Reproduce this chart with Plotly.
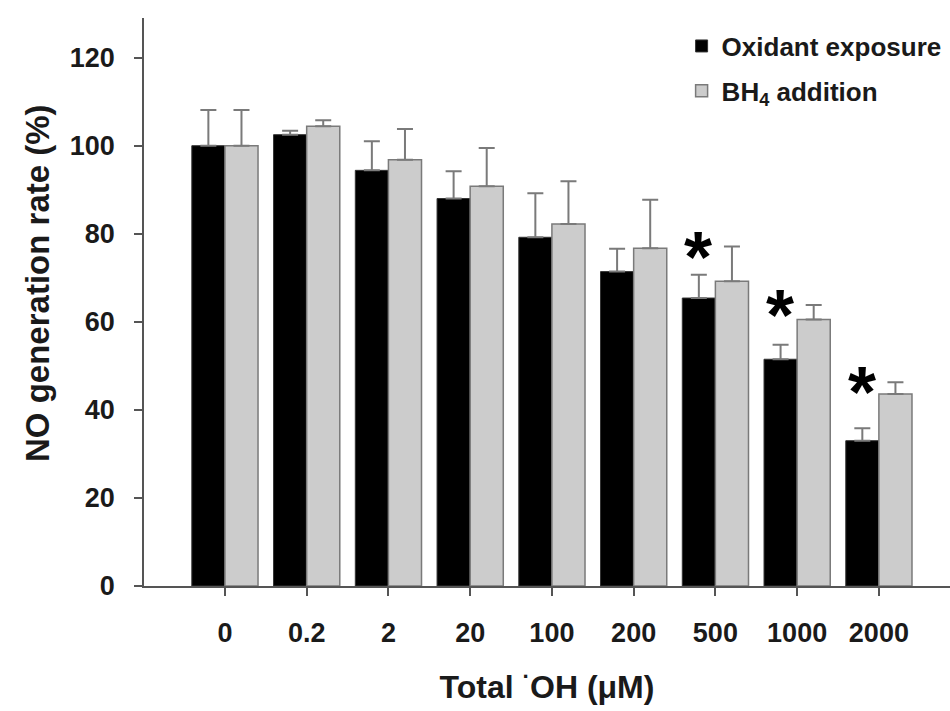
import plotly.graph_objects as go

# Total hydroxyl radical dose (µM)
doses = ["0", "0.2", "2", "20", "100", "200", "500", "1000", "2000"]

# NO generation rate (% of control), mean and SD
oxidant = [100, 102.5, 94.4, 88.0, 79.2, 71.4, 65.4, 51.5, 33.0]
oxidant_sd = [8.1, 0.9, 6.6, 6.2, 10.0, 5.2, 5.3, 3.3, 2.8]
bh4 = [100, 104.4, 96.8, 90.8, 82.2, 76.7, 69.2, 60.5, 43.6]
bh4_sd = [8.1, 1.4, 7.0, 8.7, 9.7, 11.0, 7.9, 3.3, 2.7]

# doses where oxidant exposure differs significantly
significant = ["500", "1000", "2000"]

FONT = "Liberation Sans, Arial, sans-serif"
INK = "#1a1a1a"
EDGE = "#7a7a7a"

fig = go.Figure()
fig.add_trace(go.Bar(
    x=doses, y=oxidant, name="Oxidant exposure",
    marker=dict(color="#000000", line=dict(color="#333333", width=1)),
    error_y=dict(type="data", array=oxidant_sd, arrayminus=[0] * len(doses),
                 symmetric=False, color=EDGE, thickness=2, width=8),
    legendgroup="a",
))
fig.add_trace(go.Bar(
    x=doses, y=bh4, name="BH<sub>4</sub> addition",
    marker=dict(color="#cccccc", line=dict(color=EDGE, width=1.5)),
    error_y=dict(type="data", array=bh4_sd, arrayminus=[0] * len(doses),
                 symmetric=False, color=EDGE, thickness=2, width=8),
    legendgroup="b",
))

# significance asterisks over the oxidant-exposure bars,
# level with the cap of the neighbouring BH4 bar
for d in significant:
    i = doses.index(d)
    fig.add_annotation(
        x=i, y=bh4[i] + bh4_sd[i], xref="x", yref="y",
        text="*", showarrow=False, xshift=-17, yshift=-52,
        yanchor="bottom",
        font=dict(family=FONT, size=72, color="#000000", weight="bold"),
    )

# y-axis title, set slightly above the middle of the axis
fig.add_annotation(
    x=-0.1315, y=0.5335, xref="paper", yref="paper",
    text="NO generation rate (%)", textangle=-90, showarrow=False,
    xanchor="center", yanchor="middle",
    font=dict(family=FONT, size=33, color=INK, weight="bold"),
)

fig.update_layout(
    width=950, height=711,
    margin=dict(l=144, r=0, t=18, b=125),
    paper_bgcolor="white", plot_bgcolor="white",
    barmode="group", bargap=0.19, bargroupgap=0,
    font=dict(family=FONT, color=INK),
    showlegend=True,
    legend=dict(
        x=0.667, y=0.992, xanchor="left", yanchor="top",
        font=dict(family=FONT, size=26, color=INK, weight="bold"),
        bgcolor="rgba(0,0,0,0)", tracegroupgap=8,
        itemwidth=30,
    ),
    xaxis=dict(
        type="category", range=[-0.99, 8.87],
        showline=True, linecolor="#555555", linewidth=1.5,
        ticks="outside", ticklen=8, tickcolor="#555555", tickwidth=1.5,
        tickfont=dict(family=FONT, size=27, color=INK, weight="bold"),
        ticklabelstandoff=14,
        title=dict(text="Total <sup>·</sup>OH (μM)",
                   font=dict(family=FONT, size=32, color=INK, weight="bold"),
                   standoff=28),
        showgrid=False, zeroline=False,
    ),
    yaxis=dict(
        range=[0, 129],
        tickvals=[0, 20, 40, 60, 80, 100, 120],
        showline=True, linecolor="#555555", linewidth=1.5,
        ticks="outside", ticklen=8, tickcolor="#555555", tickwidth=1.5,
        tickfont=dict(family=FONT, size=27, color=INK, weight="bold"),
        ticklabelstandoff=14,
        showgrid=False, zeroline=False,
    ),
)

fig.write_html("out.html")
